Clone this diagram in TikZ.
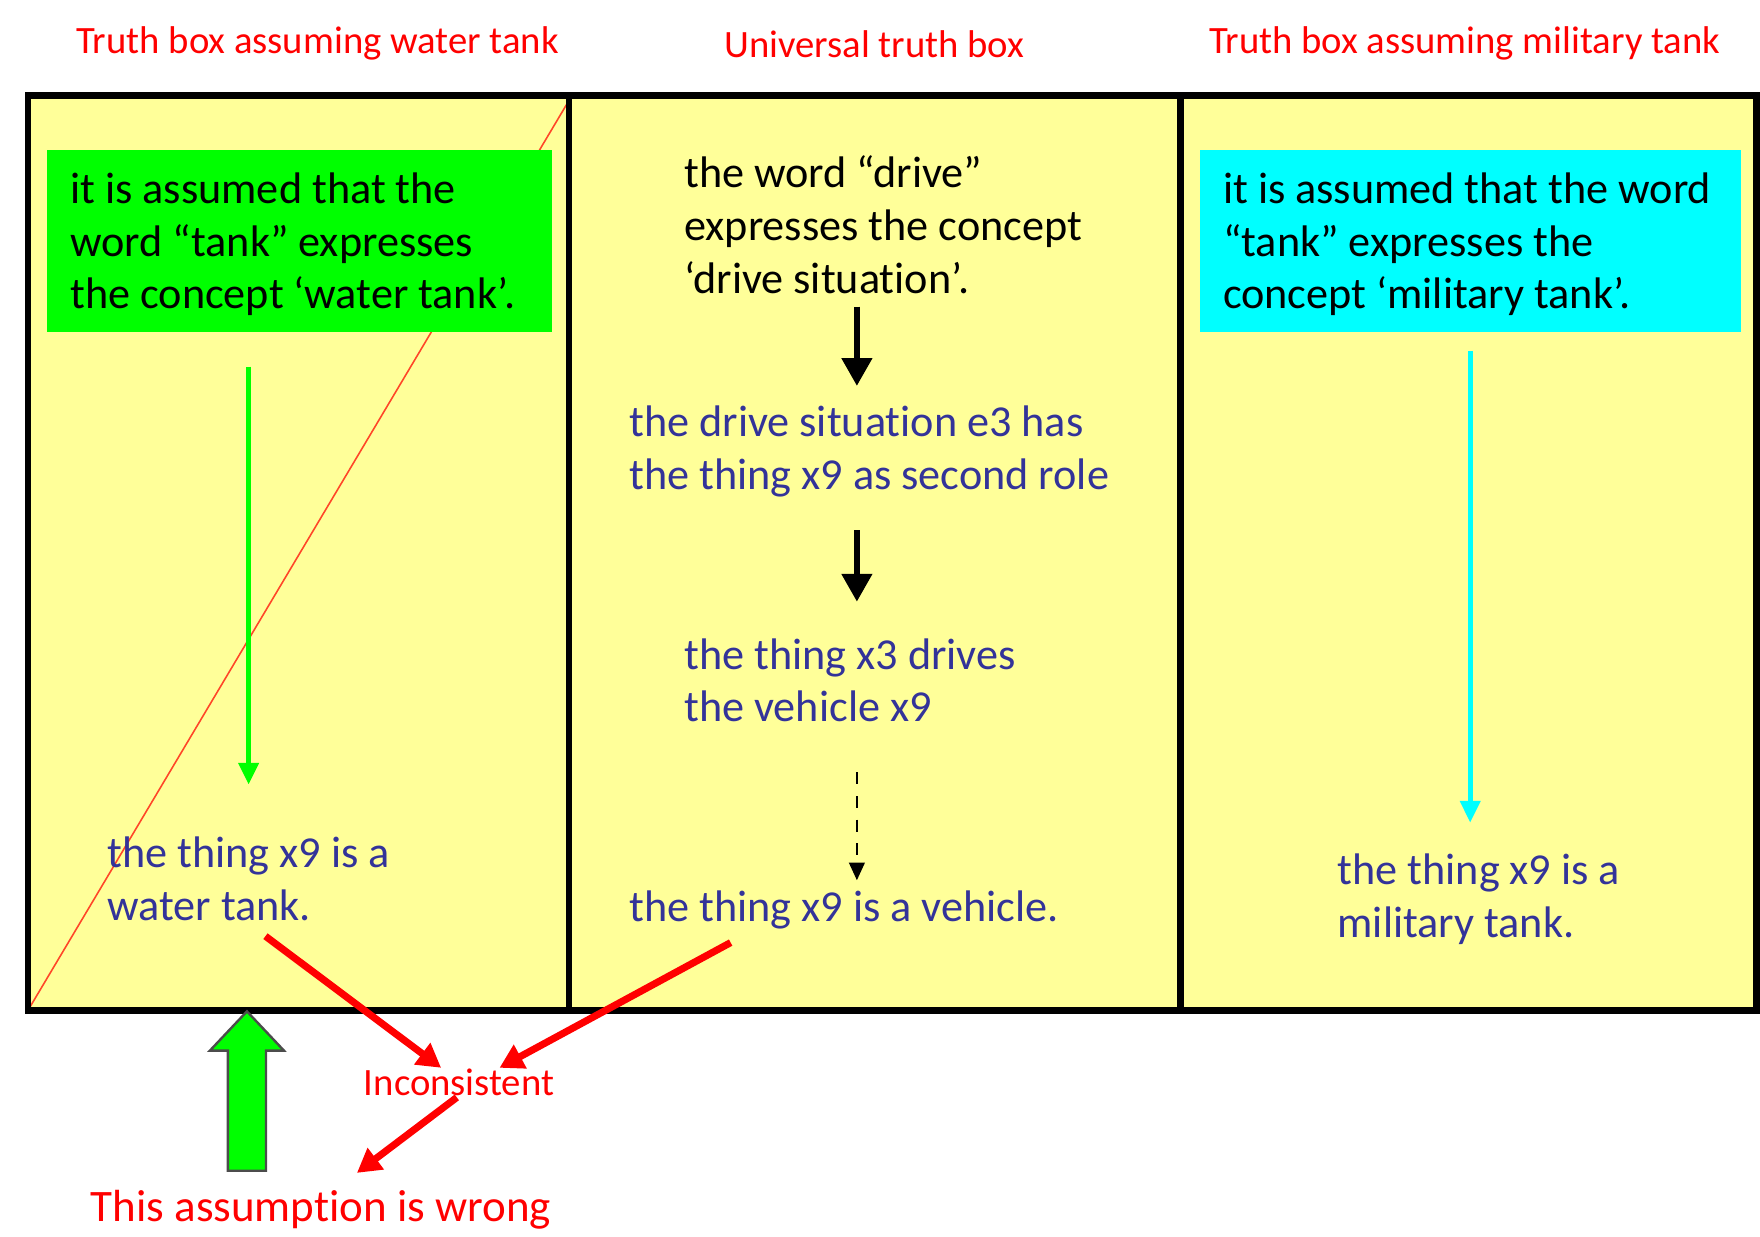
\documentclass[tikz,border=0pt]{standalone}
\usepackage{fontspec}
\setmainfont{Carlito}[Ligatures=NoCommon]
\usepackage{tikz}
\usetikzlibrary{arrows.meta,calc,positioning}
\definecolor{boxyellow}{RGB}{255,255,153}
\definecolor{txtblue}{RGB}{51,51,153}
\definecolor{hypgreen}{RGB}{0,255,0}
\definecolor{hypcyan}{RGB}{0,255,255}
\definecolor{diagred}{RGB}{255,70,40}

\tikzset{
  boxtitle/.style={text=red,inner sep=0pt,font=\fontsize{9.8}{12}\selectfont},
  stmt/.style={anchor=west,align=left,inner sep=0pt,font=\fontsize{11.2}{13.37}\selectfont},
  derived/.style={stmt,text=txtblue},
  hyp/.style={anchor=north west,inner sep=0pt,minimum height=1.62cm},
  stepdown/.style={line width=1.4pt,-{Triangle[width=7.5pt,length=7pt]}},
  guess/.style={line width=0.5pt,dashed,-{Triangle[width=4pt,length=4.5pt]}},
  clash/.style={red,line width=1.8pt,-{Triangle[width=6.5pt,length=6pt]}}
}

\begin{document}
\begin{tikzpicture}[x=0.01cm,y=-0.01cm]
  \useasboundingbox (0,0) rectangle (1568,1102);

  % the three truth boxes
  \fill[boxyellow] (25,85) rectangle (1565,900);
  \draw[diagred,line width=0.4pt] (25,900) -- (509,86);

  \node[boxtitle] (tW) at (283,39) {Truth box assuming water tank};
  \node[boxtitle] (tU) at (779,39) {Universal truth box};
  \node[boxtitle] (tM) at (1305,39) {Truth box assuming military tank};

  % assumptions
  \node[hyp,fill=hypgreen,minimum width=4.5cm] (hypW) at (41,133) {};
  \node[stmt] (hypWtext) at ($(hypW.west)+(21,3)$)
    {it is assumed that the\\word “tank” expresses\\the concept ‘water tank’.};
  \node[hyp,fill=hypcyan,minimum width=4.82cm] (hypM) at (1068,133) {};
  \node[stmt] (hypMtext) at ($(hypM.west)+(21,3)$)
    {it is assumed that the word\\“tank” expresses the\\concept ‘military tank’.};

  % statements
  \node[derived] (resW) at (95,783) {the thing x9 is a\\water tank.};
  \node[stmt] (wordU) at (609,200) {the word “drive”\\expresses the concept\\‘drive situation’.};
  \node[derived] (sitU) at (560,402) {the drive situation e3 has\\the thing x9 as second role};
  \node[derived] (drvU) at (609,606) {the thing x3 drives\\the vehicle x9};
  \node[derived] (vehU) at (560,811) {the thing x9 is a vehicle.};
  \node[derived] (resM) at (1191,801) {the thing x9 is a\\military tank.};

  \node[text=red,inner sep=0pt,font=\fontsize{9.8}{12}\selectfont] (incon) at (409,964) {Inconsistent};
  \node[text=red,inner sep=0pt,font=\fontsize{11.4}{14}\selectfont] (wrong) at (286,1078) {This assumption is wrong};

  \draw[line width=1.7pt] (25,85) rectangle (1565,900);
  \draw[line width=1.7pt] (507,85) -- (507,900);
  \draw[line width=1.7pt] (1052,85) -- (1052,900);

  % inferences
  \coordinate (spine) at ($(sitU.north)+(-11,0)$);
  \draw[hypgreen,line width=1.2pt,-{Triangle[width=5pt,length=5.5pt]},shorten <=0.3cm,shorten >=0.46cm]
    (resW.north |- hypW.south) -- (resW.north);
  \draw[hypcyan,line width=1.2pt,-{Triangle[width=5pt,length=5.5pt]},shorten <=0.16cm,shorten >=0.27cm]
    (hypM.south) -- (resM.north -| hypM.south);
  \draw[stepdown,shorten <=0.11cm,shorten >=0.17cm] (spine |- wordU.south) -- (spine |- sitU.north);
  \draw[stepdown,shorten <=0.29cm,shorten >=0.32cm] (spine |- sitU.south) -- (spine |- drvU.north);
  \draw[guess,shorten <=0.44cm,shorten >=0.09cm] (spine |- drvU.south) -- (spine |- vehU.north);

  \draw[clash] ($(resW.south)+(15,13)$) -- ($(incon.north)+(-16,0)$);
  \draw[clash] ($(vehU.south)+(-101,11)$) -- ($(incon.north)+(36,0)$);
  \draw[clash] ($(incon.south)+(-2,1)$) -- ($(wrong.north)+(32,-15)$);

  % big arrow up to the wrong assumption
  \coordinate (upTip) at (220,901);
  \draw[fill=hypgreen,draw=black!70,line width=0.6pt] (upTip) -- ++(33,35) -- ++(-16,0) -- ++(0,107)
    -- ++(-34,0) -- ++(0,-107) -- ++(-16,0) -- cycle;
\end{tikzpicture}
\end{document}
